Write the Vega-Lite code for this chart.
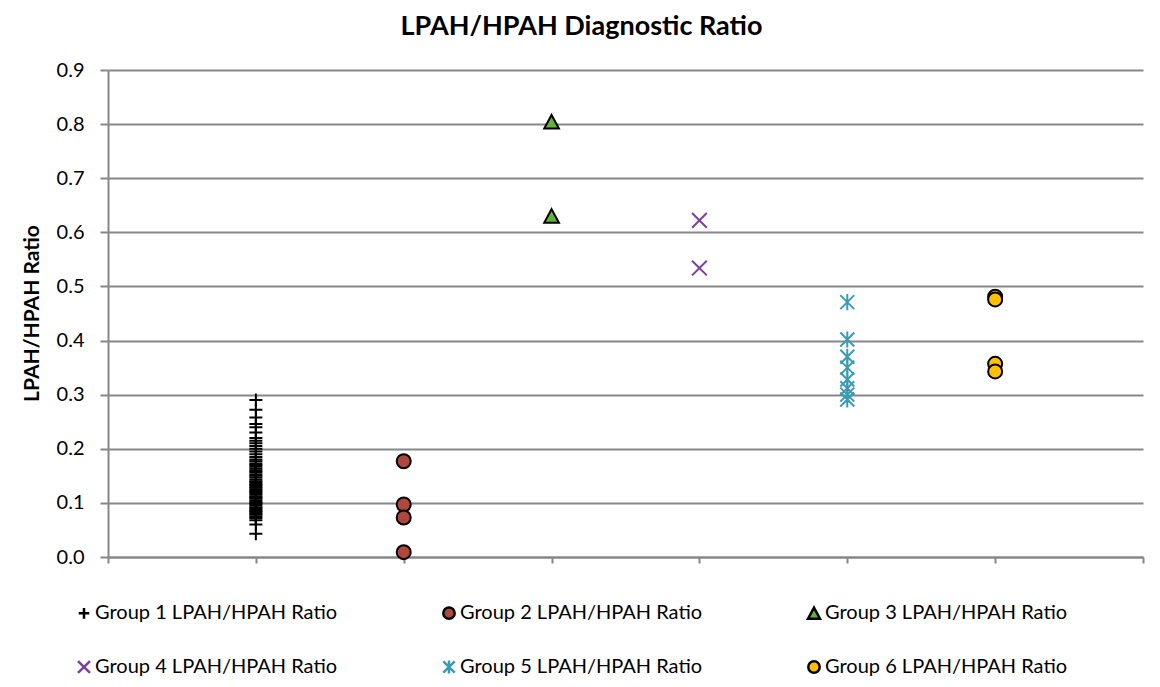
{
  "$schema": "https://vega.github.io/schema/vega-lite/v6.json",
  "width": 1035,
  "height": 487,
  "autosize": {"type": "none"},
  "padding": {"left": 108, "top": 70, "right": 17, "bottom": 130},
  "background": "white",
  "title": {
    "text": "LPAH/HPAH Diagnostic Ratio",
    "font": "Lato",
    "fontSize": 27,
    "fontWeight": "bold",
    "color": "#000000",
    "anchor": "middle",
    "frame": "group",
    "dx": -44,
    "offset": 19
  },
  "config": {
    "view": {"stroke": null},
    "axis": {"labelFont": "Lato", "titleFont": "Lato"}
  },
  "data": {
    "values": [
      {"group": "Group 1 LPAH/HPAH Ratio", "x": 1, "ratio": 0.043},
      {"group": "Group 1 LPAH/HPAH Ratio", "x": 1, "ratio": 0.060},
      {"group": "Group 1 LPAH/HPAH Ratio", "x": 1, "ratio": 0.068},
      {"group": "Group 1 LPAH/HPAH Ratio", "x": 1, "ratio": 0.072},
      {"group": "Group 1 LPAH/HPAH Ratio", "x": 1, "ratio": 0.075},
      {"group": "Group 1 LPAH/HPAH Ratio", "x": 1, "ratio": 0.078},
      {"group": "Group 1 LPAH/HPAH Ratio", "x": 1, "ratio": 0.080},
      {"group": "Group 1 LPAH/HPAH Ratio", "x": 1, "ratio": 0.083},
      {"group": "Group 1 LPAH/HPAH Ratio", "x": 1, "ratio": 0.085},
      {"group": "Group 1 LPAH/HPAH Ratio", "x": 1, "ratio": 0.088},
      {"group": "Group 1 LPAH/HPAH Ratio", "x": 1, "ratio": 0.090},
      {"group": "Group 1 LPAH/HPAH Ratio", "x": 1, "ratio": 0.092},
      {"group": "Group 1 LPAH/HPAH Ratio", "x": 1, "ratio": 0.095},
      {"group": "Group 1 LPAH/HPAH Ratio", "x": 1, "ratio": 0.098},
      {"group": "Group 1 LPAH/HPAH Ratio", "x": 1, "ratio": 0.100},
      {"group": "Group 1 LPAH/HPAH Ratio", "x": 1, "ratio": 0.102},
      {"group": "Group 1 LPAH/HPAH Ratio", "x": 1, "ratio": 0.105},
      {"group": "Group 1 LPAH/HPAH Ratio", "x": 1, "ratio": 0.108},
      {"group": "Group 1 LPAH/HPAH Ratio", "x": 1, "ratio": 0.110},
      {"group": "Group 1 LPAH/HPAH Ratio", "x": 1, "ratio": 0.112},
      {"group": "Group 1 LPAH/HPAH Ratio", "x": 1, "ratio": 0.115},
      {"group": "Group 1 LPAH/HPAH Ratio", "x": 1, "ratio": 0.118},
      {"group": "Group 1 LPAH/HPAH Ratio", "x": 1, "ratio": 0.120},
      {"group": "Group 1 LPAH/HPAH Ratio", "x": 1, "ratio": 0.123},
      {"group": "Group 1 LPAH/HPAH Ratio", "x": 1, "ratio": 0.125},
      {"group": "Group 1 LPAH/HPAH Ratio", "x": 1, "ratio": 0.128},
      {"group": "Group 1 LPAH/HPAH Ratio", "x": 1, "ratio": 0.130},
      {"group": "Group 1 LPAH/HPAH Ratio", "x": 1, "ratio": 0.133},
      {"group": "Group 1 LPAH/HPAH Ratio", "x": 1, "ratio": 0.135},
      {"group": "Group 1 LPAH/HPAH Ratio", "x": 1, "ratio": 0.138},
      {"group": "Group 1 LPAH/HPAH Ratio", "x": 1, "ratio": 0.140},
      {"group": "Group 1 LPAH/HPAH Ratio", "x": 1, "ratio": 0.143},
      {"group": "Group 1 LPAH/HPAH Ratio", "x": 1, "ratio": 0.147},
      {"group": "Group 1 LPAH/HPAH Ratio", "x": 1, "ratio": 0.150},
      {"group": "Group 1 LPAH/HPAH Ratio", "x": 1, "ratio": 0.153},
      {"group": "Group 1 LPAH/HPAH Ratio", "x": 1, "ratio": 0.157},
      {"group": "Group 1 LPAH/HPAH Ratio", "x": 1, "ratio": 0.160},
      {"group": "Group 1 LPAH/HPAH Ratio", "x": 1, "ratio": 0.163},
      {"group": "Group 1 LPAH/HPAH Ratio", "x": 1, "ratio": 0.167},
      {"group": "Group 1 LPAH/HPAH Ratio", "x": 1, "ratio": 0.170},
      {"group": "Group 1 LPAH/HPAH Ratio", "x": 1, "ratio": 0.173},
      {"group": "Group 1 LPAH/HPAH Ratio", "x": 1, "ratio": 0.177},
      {"group": "Group 1 LPAH/HPAH Ratio", "x": 1, "ratio": 0.180},
      {"group": "Group 1 LPAH/HPAH Ratio", "x": 1, "ratio": 0.185},
      {"group": "Group 1 LPAH/HPAH Ratio", "x": 1, "ratio": 0.190},
      {"group": "Group 1 LPAH/HPAH Ratio", "x": 1, "ratio": 0.195},
      {"group": "Group 1 LPAH/HPAH Ratio", "x": 1, "ratio": 0.200},
      {"group": "Group 1 LPAH/HPAH Ratio", "x": 1, "ratio": 0.205},
      {"group": "Group 1 LPAH/HPAH Ratio", "x": 1, "ratio": 0.210},
      {"group": "Group 1 LPAH/HPAH Ratio", "x": 1, "ratio": 0.215},
      {"group": "Group 1 LPAH/HPAH Ratio", "x": 1, "ratio": 0.220},
      {"group": "Group 1 LPAH/HPAH Ratio", "x": 1, "ratio": 0.230},
      {"group": "Group 1 LPAH/HPAH Ratio", "x": 1, "ratio": 0.240},
      {"group": "Group 1 LPAH/HPAH Ratio", "x": 1, "ratio": 0.246},
      {"group": "Group 1 LPAH/HPAH Ratio", "x": 1, "ratio": 0.258},
      {"group": "Group 1 LPAH/HPAH Ratio", "x": 1, "ratio": 0.272},
      {"group": "Group 1 LPAH/HPAH Ratio", "x": 1, "ratio": 0.290},
      {"group": "Group 2 LPAH/HPAH Ratio", "x": 2, "ratio": 0.177},
      {"group": "Group 2 LPAH/HPAH Ratio", "x": 2, "ratio": 0.097},
      {"group": "Group 2 LPAH/HPAH Ratio", "x": 2, "ratio": 0.073},
      {"group": "Group 2 LPAH/HPAH Ratio", "x": 2, "ratio": 0.009},
      {"group": "Group 3 LPAH/HPAH Ratio", "x": 3, "ratio": 0.804},
      {"group": "Group 3 LPAH/HPAH Ratio", "x": 3, "ratio": 0.630},
      {"group": "Group 4 LPAH/HPAH Ratio", "x": 4, "ratio": 0.622},
      {"group": "Group 4 LPAH/HPAH Ratio", "x": 4, "ratio": 0.534},
      {"group": "Group 5 LPAH/HPAH Ratio", "x": 5, "ratio": 0.471},
      {"group": "Group 5 LPAH/HPAH Ratio", "x": 5, "ratio": 0.402},
      {"group": "Group 5 LPAH/HPAH Ratio", "x": 5, "ratio": 0.370},
      {"group": "Group 5 LPAH/HPAH Ratio", "x": 5, "ratio": 0.350},
      {"group": "Group 5 LPAH/HPAH Ratio", "x": 5, "ratio": 0.328},
      {"group": "Group 5 LPAH/HPAH Ratio", "x": 5, "ratio": 0.312},
      {"group": "Group 5 LPAH/HPAH Ratio", "x": 5, "ratio": 0.300},
      {"group": "Group 5 LPAH/HPAH Ratio", "x": 5, "ratio": 0.291},
      {"group": "Group 6 LPAH/HPAH Ratio", "x": 6, "ratio": 0.481},
      {"group": "Group 6 LPAH/HPAH Ratio", "x": 6, "ratio": 0.476},
      {"group": "Group 6 LPAH/HPAH Ratio", "x": 6, "ratio": 0.357},
      {"group": "Group 6 LPAH/HPAH Ratio", "x": 6, "ratio": 0.343}
    ]
  },
  "mark": {"type": "point", "filled": true, "size": 196, "strokeWidth": 2, "opacity": 1},
  "encoding": {
    "x": {
      "field": "x",
      "type": "quantitative",
      "scale": {"domain": [0, 7], "nice": false, "zero": false},
      "axis": {
        "title": null,
        "labels": false,
        "grid": false,
        "values": [0, 1, 2, 3, 4, 5, 6, 7],
        "domainColor": "#878787",
        "domainWidth": 2,
        "tickColor": "#878787",
        "tickWidth": 2,
        "tickSize": 6
      }
    },
    "y": {
      "field": "ratio",
      "type": "quantitative",
      "scale": {"domain": [0, 0.9], "nice": false},
      "axis": {
        "title": "LPAH/HPAH Ratio",
        "titleFontSize": 21,
        "titleFontWeight": "bold",
        "titleColor": "#000000",
        "titleX": -66,
        "titleY": 243,
        "titleAngle": -90,
        "titleBaseline": "bottom",
        "titleAlign": "center",
        "values": [0, 0.1, 0.2, 0.3, 0.4, 0.5, 0.6, 0.7, 0.8, 0.9],
        "format": ".1f",
        "labelFontSize": 20,
        "labelColor": "#000000",
        "labelPadding": 16,
        "grid": true,
        "gridColor": "#878787",
        "gridWidth": 2,
        "domainColor": "#878787",
        "domainWidth": 2,
        "tickColor": "#878787",
        "tickWidth": 2,
        "tickSize": 8
      }
    },
    "shape": {
      "field": "group",
      "type": "nominal",
      "scale": {
        "domain": ["Group 1 LPAH/HPAH Ratio", "Group 2 LPAH/HPAH Ratio", "Group 3 LPAH/HPAH Ratio", "Group 4 LPAH/HPAH Ratio", "Group 5 LPAH/HPAH Ratio", "Group 6 LPAH/HPAH Ratio"],
        "range": [
          "M-0.93,0H0.93M0,-0.93V0.93",
          "circle",
          "M0,-1L1.05,0.95L-1.05,0.95Z",
          "M-1.05,-1.05L1.05,1.05M-1.05,1.05L1.05,-1.05",
          "M-1,-1L1,1M-1,1L1,-1M0,-1.15V1.15",
          "circle"
        ]
      },
      "legend": {
        "title": null,
        "orient": "none",
        "legendX": -34,
        "legendY": 533,
        "direction": "horizontal",
        "columns": 3,
        "padding": 0,
        "rowPadding": 31,
        "columnPadding": 100,
        "labelFont": "Lato",
        "labelFontSize": 20,
        "labelColor": "#000000",
        "labelOffset": 1,
        "labelLimit": 400,
        "symbolSize": 130,
        "symbolStrokeWidth": 2.5,
        "symbolOpacity": 1
      }
    },
    "fill": {
      "field": "group",
      "type": "nominal",
      "scale": {
        "domain": ["Group 1 LPAH/HPAH Ratio", "Group 2 LPAH/HPAH Ratio", "Group 3 LPAH/HPAH Ratio", "Group 4 LPAH/HPAH Ratio", "Group 5 LPAH/HPAH Ratio", "Group 6 LPAH/HPAH Ratio"],
        "range": ["#000000", "#B0473F", "#62B23C", "#7B3FA0", "#3A9BB5", "#FFC000"]
      },
      "legend": null
    },
    "stroke": {
      "field": "group",
      "type": "nominal",
      "scale": {
        "domain": ["Group 1 LPAH/HPAH Ratio", "Group 2 LPAH/HPAH Ratio", "Group 3 LPAH/HPAH Ratio", "Group 4 LPAH/HPAH Ratio", "Group 5 LPAH/HPAH Ratio", "Group 6 LPAH/HPAH Ratio"],
        "range": ["#000000", "#000000", "#000000", "#7B3FA0", "#3A9BB5", "#000000"]
      },
      "legend": null
    }
  }
}
